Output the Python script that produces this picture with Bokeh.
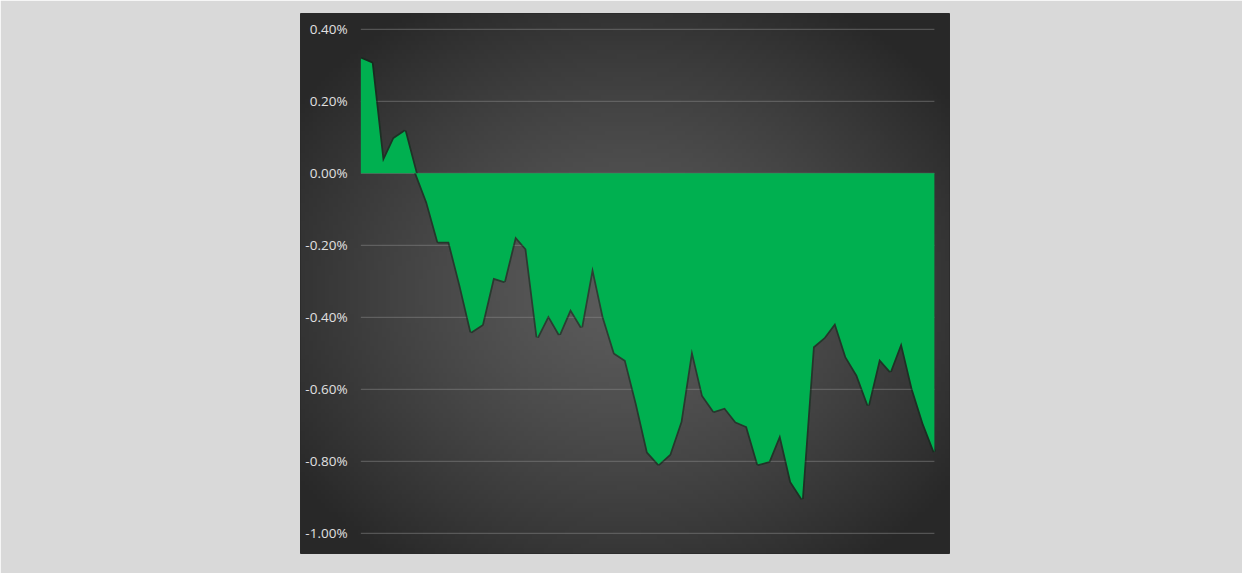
import numpy as np
from bokeh.plotting import figure
from bokeh.models import Range1d, FixedTicker
from bokeh.embed import file_html
from bokeh.resources import INLINE

# ---- data (values in percent) ----
periods = list(range(53))
returns_pct = [0.319, 0.306, 0.031, 0.096, 0.117, 0.000, -0.080, -0.190, -0.190, -0.310,
               -0.440, -0.420, -0.290, -0.300, -0.175, -0.210, -0.455, -0.394, -0.447, -0.376,
               -0.427, -0.258, -0.400, -0.499, -0.519, -0.640, -0.774, -0.808, -0.780, -0.690,
               -0.487, -0.617, -0.661, -0.651, -0.690, -0.703, -0.808, -0.800, -0.725, -0.857,
               -0.904, -0.482, -0.456, -0.415, -0.510, -0.561, -0.644, -0.515, -0.550, -0.469,
               -0.598, -0.695, -0.774]
tick_values = [0.4, 0.2, 0.0, -0.2, -0.4, -0.6, -0.8, -1.0]
tick_labels = ["0.40%", "0.20%", "0.00%", "-0.20%", "-0.40%", "-0.60%", "-0.80%", "-1.00%"]

X0, X1 = -5.47, 53.37
Y0, Y1 = -1.056, 0.444

p = figure(width=1242, height=573, output_backend="svg", toolbar_location=None,
           x_range=Range1d(X0, X1), y_range=Range1d(Y0, Y1),
           min_border_left=300, min_border_right=293, min_border_top=13, min_border_bottom=20)
p.border_fill_color = "#d9d9d9"
p.background_fill_color = "#3c3c3c"
p.outline_line_color = "#2a2a2a"
p.outline_line_width = 1

# radial gradient background of the plot area
ny, nx = 120, 160
gy, gx = np.mgrid[0:ny, 0:nx]
cx, cy = nx * 0.50, ny * 0.48
r = np.sqrt(((gx - cx) / (nx * 0.62)) ** 2 + ((gy - cy) / (ny * 0.62)) ** 2)
r = np.clip(r, 0, 1)
lum = (92 - (92 - 40) * r ** 1.3).astype(np.uint32)
img = (255 << 24) | (lum << 16) | (lum << 8) | lum
p.image_rgba(image=[img.astype(np.uint32)], x=X0, y=Y0, dw=X1 - X0, dh=Y1 - Y0, level="image")

# axes
p.xaxis.visible = False
p.yaxis.fixed_location = -0.75
p.yaxis.ticker = FixedTicker(ticks=tick_values)
p.yaxis.major_label_overrides = {t: l for t, l in zip(tick_values, tick_labels)}
p.yaxis.axis_line_color = None
p.yaxis.major_tick_line_color = None
p.yaxis.minor_tick_line_color = None
p.yaxis.major_tick_out = 0
p.yaxis.major_label_standoff = 5
p.yaxis.major_label_text_color = "#e0e0e0"
p.yaxis.major_label_text_font = "Open Sans"
p.yaxis.major_label_text_font_size = "13.5px"

# gridlines spanning only the data extent
p.grid.visible = False
p.segment(x0=[periods[0]] * len(tick_values), x1=[periods[-1]] * len(tick_values),
          y0=tick_values, y1=tick_values, line_color="#8a8a8a", line_alpha=0.45,
          line_width=1.2, level="underlay")

# shadow outline then area
p.line(periods, returns_pct, line_color="#0a2a16", line_width=3.5, line_alpha=0.55)
p.varea(x=periods, y1=[0] * len(periods), y2=returns_pct, fill_color="#00b050")

open("out.html", "w").write(file_html(p, INLINE))
